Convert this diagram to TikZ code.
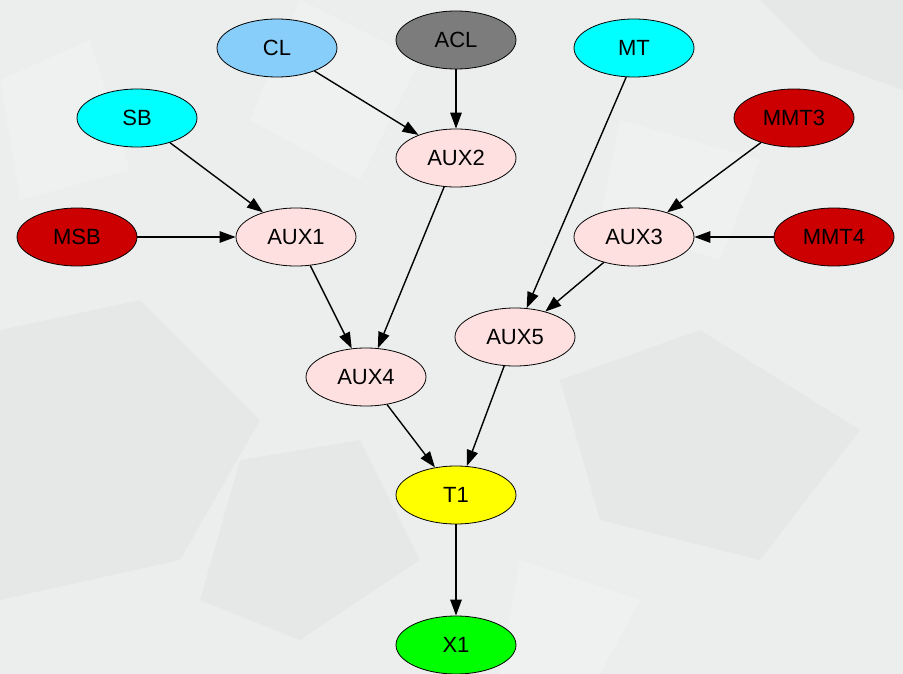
\documentclass[tikz,border=0pt]{standalone}
\usepackage{fontspec}
\setmainfont{Liberation Sans}
\usetikzlibrary{shapes.geometric,arrows.meta}

\definecolor{paper}{HTML}{ECEEEE}
\definecolor{crease}{HTML}{D9DCDC}
\definecolor{sheen}{HTML}{F7F8F8}
\definecolor{skyblue}{HTML}{87CEFA}
\definecolor{midgray}{HTML}{7C7C7C}
\definecolor{aqua}{HTML}{00FFFF}
\definecolor{darkred}{HTML}{CC0000}
\definecolor{rose}{HTML}{FFE0E0}
\definecolor{lemon}{HTML}{FFFF00}
\definecolor{lime}{HTML}{00FF00}

\tikzset{
  vertex/.style={ellipse, draw=black, line width=0.8pt, minimum width=120pt,
    minimum height=58pt, inner sep=0pt, font=\fontsize{22}{22}\selectfont},
  link/.style={draw=black, line width=1.4pt,
    -{Triangle[length=16pt,width=11.5pt]}}
}

\begin{document}
\begin{tikzpicture}[x=1pt,y=-1pt]
  % crumpled paper backdrop
  \fill[paper] (0,0) rectangle (903,674);
  \begin{scope}[opacity=0.3]
    \fill[crease] (0,330) -- (140,300) -- (260,420) -- (180,560) -- (0,600) -- cycle;
    \fill[sheen] (300,0) -- (420,60) -- (360,180) -- (250,120) -- cycle;
    \fill[crease] (560,380) -- (700,330) -- (860,430) -- (760,560) -- (600,520) -- cycle;
    \fill[sheen] (620,120) -- (760,160) -- (720,260) -- (600,220) -- cycle;
    \fill[crease] (240,460) -- (360,440) -- (420,560) -- (300,640) -- (200,600) -- cycle;
    \fill[sheen] (0,80) -- (90,40) -- (130,170) -- (20,200) -- cycle;
    \fill[crease] (760,0) -- (903,0) -- (903,90) -- (820,60) -- cycle;
    \fill[sheen] (520,560) -- (640,600) -- (600,674) -- (500,674) -- cycle;
  \end{scope}
  \useasboundingbox (0,0) rectangle (903,674);

  % nodes
  \node[vertex, fill=skyblue]  (CL)   at (277,48)  {CL};
  \node[vertex, fill=midgray]  (ACL)  at (456,40)  {ACL};
  \node[vertex, fill=aqua]     (MT)   at (634,48)  {MT};
  \node[vertex, fill=aqua]     (SB)   at (137,118) {SB};
  \node[vertex, fill=darkred]  (MMT3) at (794,118) {MMT3};
  \node[vertex, fill=rose]     (AUX2) at (456,158) {AUX2};
  \node[vertex, fill=darkred]  (MSB)  at (77,237)  {MSB};
  \node[vertex, fill=rose]     (AUX1) at (296,237) {AUX1};
  \node[vertex, fill=rose]     (AUX3) at (634,237) {AUX3};
  \node[vertex, fill=darkred]  (MMT4) at (834,237) {MMT4};
  \node[vertex, fill=rose]     (AUX5) at (515,337) {AUX5};
  \node[vertex, fill=rose]     (AUX4) at (366,377) {AUX4};
  \node[vertex, fill=lemon]    (T1)   at (456,495) {T1};
  \node[vertex, fill=lime]     (X1)   at (456,645) {X1};

  % edges
  \draw[link] (CL)   -- (AUX2);
  \draw[link] (ACL)  -- (AUX2);
  \draw[link] (SB)   -- (AUX1);
  \draw[link] (MSB)  -- (AUX1);
  \draw[link] (MMT3) -- (AUX3);
  \draw[link] (MMT4) -- (AUX3);
  \draw[link] (MT.255) -- (AUX5.68);
  \draw[link] (AUX3) -- (AUX5);
  \draw[link] (AUX1) -- (AUX4);
  \draw[link] (AUX2) -- (AUX4);
  \draw[link] (AUX4) -- (T1);
  \draw[link] (AUX5) -- (T1);
  \draw[link] (T1)   -- (X1);
\end{tikzpicture}
\end{document}
